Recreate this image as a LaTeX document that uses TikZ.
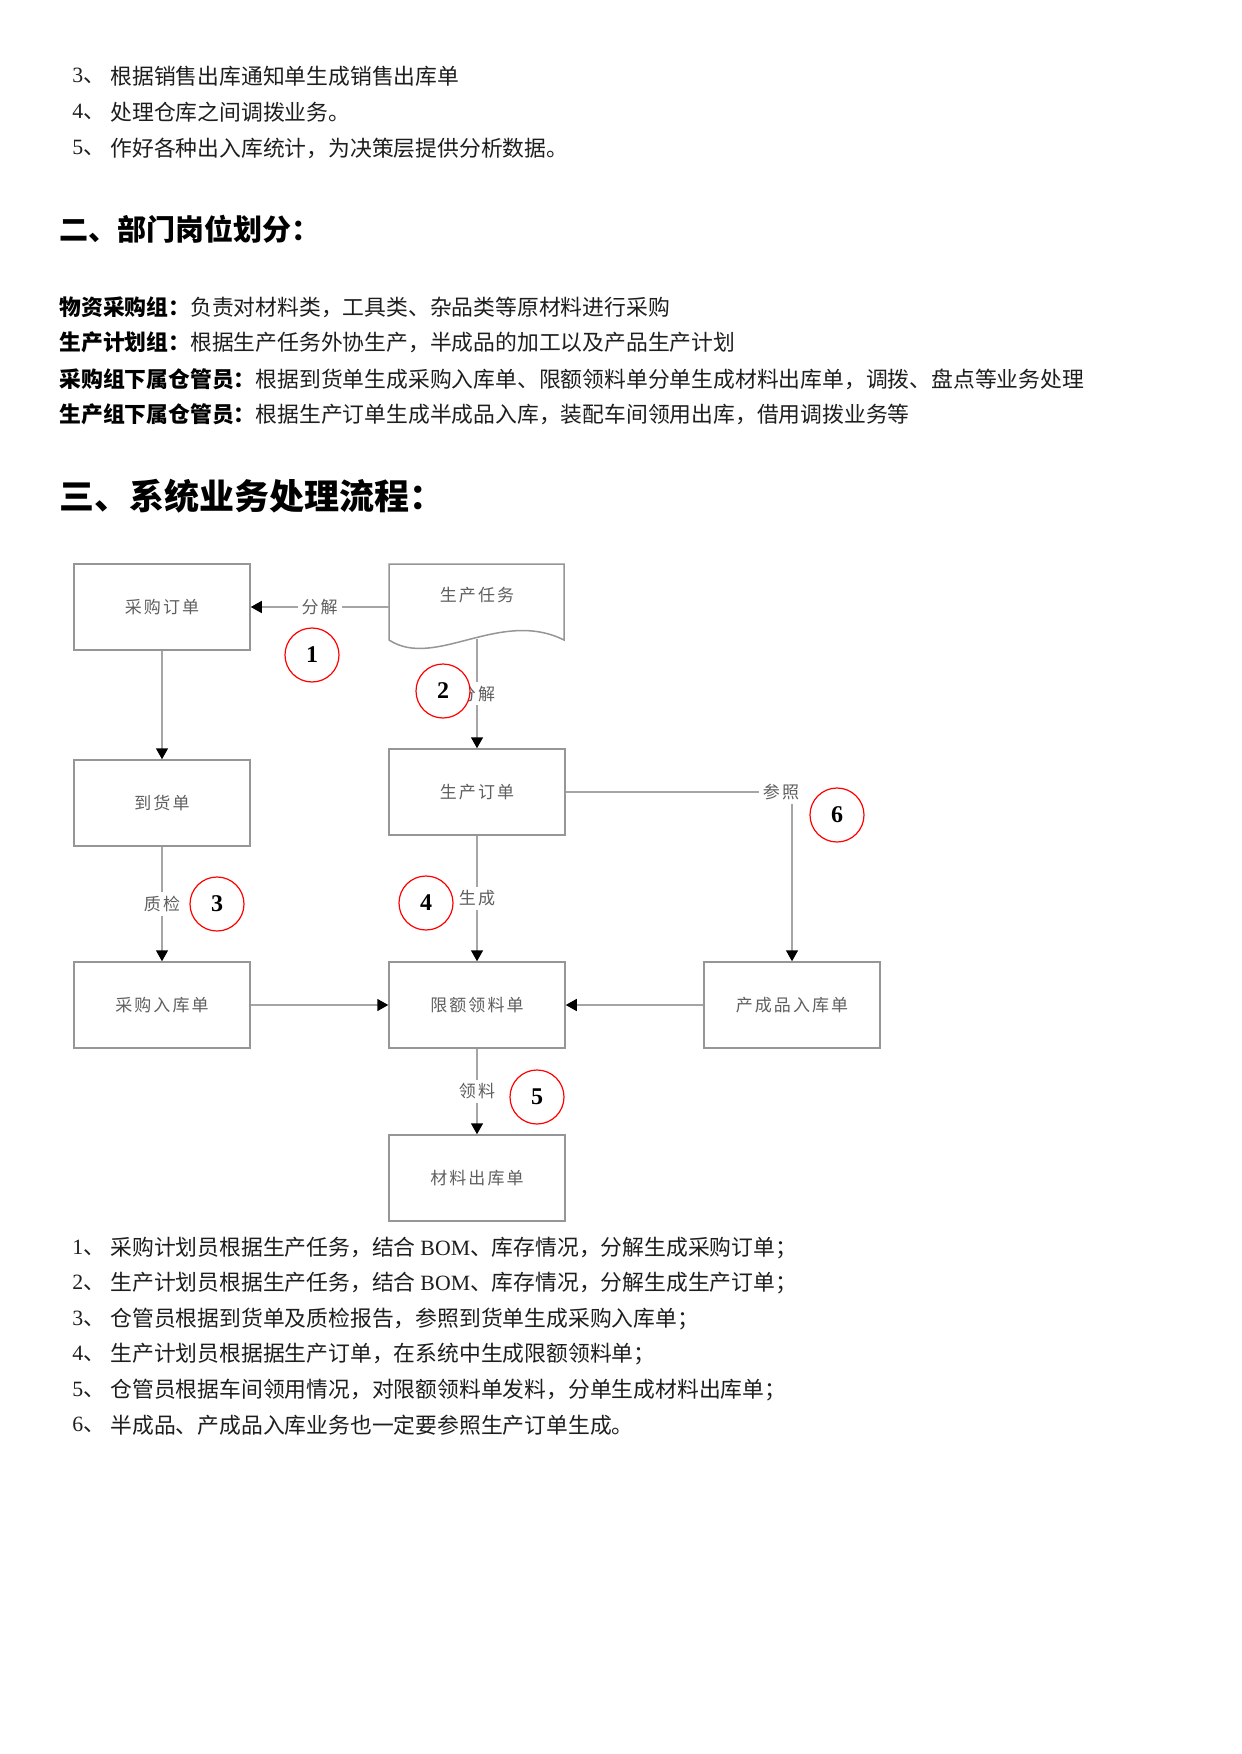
\documentclass[tikz,border=0pt]{standalone}
\usepackage{fontspec}
\setmainfont{Liberation Serif}
\newfontfamily\cjk{Noto Sans CJK SC}
\newfontfamily\cjkd{Noto Sans CJK SC}[LetterSpace=12]
\usetikzlibrary{arrows.meta}
\definecolor{linegray}{RGB}{165,165,165}
\definecolor{boxgray}{RGB}{150,150,150}
\definecolor{dtext}{RGB}{95,95,95}
\definecolor{bodyblack}{RGB}{30,30,30}
\newcommand\bodyfont{\cjk\fontsize{10.9pt}{13pt}\selectfont}
\newcommand\numfont{\fontsize{10.9pt}{13pt}\selectfont}
\newcommand\dfont{\cjkd\fontsize{8.5pt}{10pt}\selectfont}
\newcommand\ser[1]{{\rmfamily #1}}
\tikzset{
  bodytext/.style={anchor=west, inner sep=0pt, font=\bodyfont, text=bodyblack},
  numtext/.style={anchor=west, inner sep=0pt, font=\numfont, text=bodyblack},
  headtwo/.style={anchor=west, inner sep=0pt, font=\cjk\bfseries\fontsize{14.5pt}{17pt}\selectfont},
  headthree/.style={anchor=west, inner sep=0pt, font=\cjk\bfseries\fontsize{17.5pt}{20pt}\selectfont},
  flowbox/.style={draw=boxgray, line width=0.75pt, minimum width=88pt, minimum height=43pt, inner sep=0pt, font=\dfont, text=dtext},
  ghostbox/.style={minimum width=88pt, minimum height=43pt, inner sep=0pt},
  dlabel/.style={font=\dfont, text=dtext, inner sep=0pt},
  conn/.style={draw=linegray, line width=0.75pt, -{Triangle[length=5.5pt,width=6pt,color=black]}},
  lab/.style={fill=white, inner sep=2pt, font=\dfont, text=dtext},
  numcirc/.style={circle, draw=red, line width=0.6pt, fill=white, minimum size=27pt, inner sep=0pt, font=\bfseries\fontsize{12pt}{14pt}\selectfont}
}
\begin{document}
\begin{tikzpicture}[x=0.5pt,y=-0.5pt]
\fill[white] (0,0) rectangle (1241,1754);
\useasboundingbox (0,0) rectangle (1241,1754);

% top list
\node[numtext] (n3a) at (72,76) {3\cjk、};
\node[bodytext] (t3a) at (110,76) {根据销售出库通知单生成销售出库单};
\node[numtext] (n4a) at (72,112) {4\cjk、};
\node[bodytext] (t4a) at (110,112) {处理仓库之间调拨业务。};
\node[numtext] (n5a) at (72,148) {5\cjk、};
\node[bodytext] (t5a) at (110,148) {作好各种出入库统计，为决策层提供分析数据。};

% section 2
\node[headtwo] (h2) at (59,229) {二、部门岗位划分：};
\node[bodytext] (r1) at (59,307) {{\bfseries\color{black} 物资采购组：}负责对材料类，工具类、杂品类等原材料进行采购};
\node[bodytext] (r2) at (59,342) {{\bfseries\color{black} 生产计划组：}根据生产任务外协生产，半成品的加工以及产品生产计划};
\node[bodytext] (r3) at (59,379) {{\bfseries\color{black} 采购组下属仓管员：}根据到货单生成采购入库单、限额领料单分单生成材料出库单，调拨、盘点等业务处理};
\node[bodytext] (r4) at (59,414) {{\bfseries\color{black} 生产组下属仓管员：}根据生产订单生成半成品入库，装配车间领用出库，借用调拨业务等};

% section 3
\node[headthree] (h3) at (59,496) {三、系统业务处理流程：};

% flow boxes
\node[flowbox] (po) at (162,607) {采购订单};
\node[ghostbox] (task) at (477,607) {};
\draw[draw=boxgray, line width=0.75pt] (389,640) -- (389,564) -- (564,564) -- (564,640)
  .. controls (500,608) and (435,670) .. (389,640) -- cycle;
\node[dlabel] (tasklbl) at (477,595) {生产任务};
\coordinate (taskb) at (477,639);
\node[flowbox] (arr) at (162,803) {到货单};
\node[flowbox] (mo) at (477,792) {生产订单};
\node[flowbox] (pin) at (162,1005) {采购入库单};
\node[flowbox] (lim) at (477,1005) {限额领料单};
\node[flowbox] (fin) at (792,1005) {产成品入库单};
\node[flowbox] (mout) at (477,1178) {材料出库单};

% connectors
\draw[conn] (task.west) -- node[lab]{分解} (po.east);
\draw[conn] (taskb) -- node[lab]{分解} (mo.north);
\draw[conn] (po.south) -- (arr.north);
\draw[conn] (arr.south) -- node[lab]{质检} (pin.north);
\draw[conn] (mo.south) -- node[lab]{生成} (lim.north);
\draw[conn] (mo.east) -| node[lab, pos=0.5, xshift=-5.5pt]{参照} (fin.north);
\draw[conn] (pin.east) -- (lim.west);
\draw[conn] (fin.west) -- (lim.east);
\draw[conn] (lim.south) -- node[lab]{领料} (mout.north);

% numbered circles
\node[numcirc] (c1) at (312,655) {1};
\node[numcirc] (c2) at (443,691) {2};
\node[numcirc] (c3) at (217,904) {3};
\node[numcirc] (c4) at (426,903) {4};
\node[numcirc] (c5) at (537,1097) {5};
\node[numcirc] (c6) at (837,815) {6};

% bottom list
\node[numtext] (b1n) at (72,1248) {1\cjk、};
\node[bodytext] (b1) at (110,1248) {采购计划员根据生产任务，结合 \ser{BOM}、库存情况，分解生成采购订单；};
\node[numtext] (b2n) at (72,1283) {2\cjk、};
\node[bodytext] (b2) at (110,1283) {生产计划员根据生产任务，结合 \ser{BOM}、库存情况，分解生成生产订单；};
\node[numtext] (b3n) at (72,1319) {3\cjk、};
\node[bodytext] (b3) at (110,1319) {仓管员根据到货单及质检报告，参照到货单生成采购入库单；};
\node[numtext] (b4n) at (72,1354) {4\cjk、};
\node[bodytext] (b4) at (110,1354) {生产计划员根据据生产订单，在系统中生成限额领料单；};
\node[numtext] (b5n) at (72,1390) {5\cjk、};
\node[bodytext] (b5) at (110,1390) {仓管员根据车间领用情况，对限额领料单发料，分单生成材料出库单；};
\node[numtext] (b6n) at (72,1425) {6\cjk、};
\node[bodytext] (b6) at (110,1425) {半成品、产成品入库业务也一定要参照生产订单生成。};
\end{tikzpicture}
\end{document}
